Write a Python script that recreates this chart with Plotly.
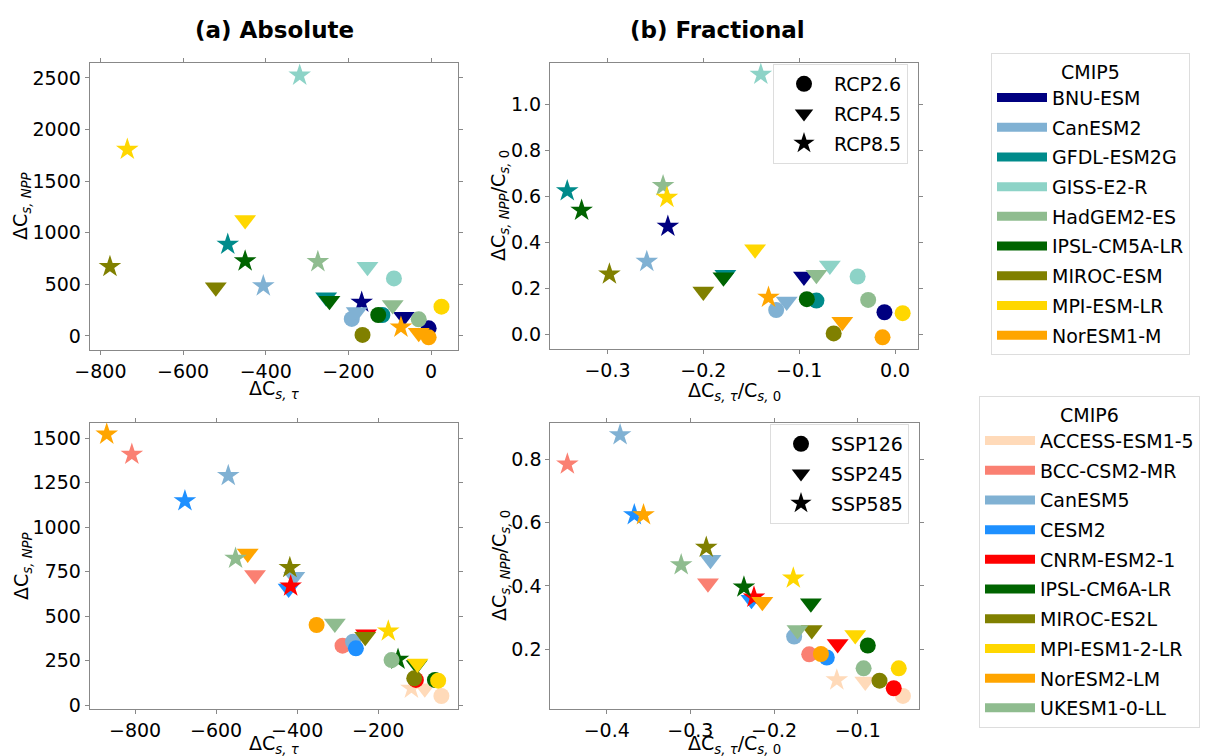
import plotly.graph_objects as go

# ---------------- data ----------------
cmip5_models = ["BNU-ESM", "CanESM2", "GFDL-ESM2G", "GISS-E2-R", "HadGEM2-ES",
                "IPSL-CM5A-LR", "MIROC-ESM", "MPI-ESM-LR", "NorESM1-M"]
cmip5_colors = ["#000080", "#80B1D3", "#008B8B", "#8DD3C7", "#8FBC8F",
                "#006400", "#808000", "#FFD700", "#FFA500"]
rcp_names = ["RCP2.6", "RCP4.5", "RCP8.5"]

# (a) absolute, per model: [RCP2.6, RCP4.5, RCP8.5]
cmip5_abs_dtau = [[-6, -66, -168], [-192, -180, -406], [-118, -254, -492],
                  [-90, -154, -318], [-30, -93, -274], [-128, -246, -450],
                  [-166, -521, -777], [25, -450, -735], [-6, -30, -73]]
cmip5_abs_dnpp = [[74, 187, 326], [165, 232, 484], [203, 374, 887],
                  [558, 671, 2526], [161, 300, 719], [203, 342, 726],
                  [10, 471, 671], [284, 1123, 1807], [-13, 32, 84]]
# (b) fractional
cmip5_frac_dtau = [[-0.011, -0.095, -0.237], [-0.124, -0.113, -0.259],
                   [-0.082, -0.177, -0.342], [-0.039, -0.068, -0.140],
                   [-0.028, -0.082, -0.242], [-0.092, -0.179, -0.327],
                   [-0.064, -0.200, -0.298], [0.008, -0.146, -0.238],
                   [-0.013, -0.055, -0.132]]
cmip5_frac_dnpp = [[0.096, 0.252, 0.470], [0.106, 0.143, 0.317],
                   [0.147, 0.259, 0.625], [0.252, 0.300, 1.132],
                   [0.150, 0.259, 0.647], [0.153, 0.249, 0.540],
                   [0.004, 0.186, 0.262], [0.092, 0.371, 0.596],
                   [-0.013, 0.055, 0.161]]

cmip6_models = ["ACCESS-ESM1-5", "BCC-CSM2-MR", "CanESM5", "CESM2", "CNRM-ESM2-1",
                "IPSL-CM6A-LR", "MIROC-ES2L", "MPI-ESM1-2-LR", "NorESM2-LM", "UKESM1-0-LL"]
cmip6_colors = ["#FFDAB9", "#FA8072", "#80B1D3", "#1E90FF", "#FF0000",
                "#006400", "#808000", "#FFD700", "#FFA500", "#8FBC8F"]
ssp_names = ["SSP126", "SSP245", "SSP585"]

cmip6_abs_dtau = [[-44, -85, -118], [-288, -504, -808], [-262, -407, -570],
                  [-255, -421, -677], [-107, -230, -416], [-60, -105, -151],
                  [-111, -232, -418], [-52, -103, -175], [-352, -522, -870],
                  [-167, -307, -552]]
cmip6_abs_dnpp = [[51, 94, 94], [334, 731, 1410], [356, 722, 1290],
                  [319, 656, 1148], [141, 398, 669], [141, 225, 257],
                  [150, 384, 773], [137, 234, 416], [450, 853, 1523],
                  [253, 459, 825]]
cmip6_frac_dtau = [[-0.046, -0.091, -0.125], [-0.158, -0.279, -0.447],
                   [-0.176, -0.276, -0.384], [-0.137, -0.227, -0.367],
                   [-0.057, -0.124, -0.224], [-0.088, -0.156, -0.236],
                   [-0.074, -0.155, -0.281], [-0.051, -0.103, -0.177],
                   [-0.144, -0.214, -0.356], [-0.093, -0.172, -0.311]]
cmip6_frac_dnpp = [[0.053, 0.098, 0.103], [0.184, 0.408, 0.784],
                   [0.240, 0.482, 0.876], [0.174, 0.356, 0.624],
                   [0.077, 0.217, 0.364], [0.212, 0.345, 0.396],
                   [0.101, 0.261, 0.521], [0.140, 0.245, 0.424],
                   [0.185, 0.350, 0.624], [0.140, 0.261, 0.466]]

symbols = ["circle", "triangle-down", "star"]
sizes = [16, 19, 17]

FONT = "DejaVu Sans"
W, H = 1208, 756
OFF = 8  # page body margin offset

fig = go.Figure()

def px_x(p):
    return (p - OFF) / W

def px_y(p):
    return 1 - (p - OFF) / H

panels = [
    ("x", "y", cmip5_abs_dtau, cmip5_abs_dnpp, cmip5_colors),
    ("x2", "y2", cmip5_frac_dtau, cmip5_frac_dnpp, cmip5_colors),
    ("x3", "y3", cmip6_abs_dtau, cmip6_abs_dnpp, cmip6_colors),
    ("x4", "y4", cmip6_frac_dtau, cmip6_frac_dnpp, cmip6_colors),
]
for xa, ya, xs, ys, cols in panels:
    for i, c in enumerate(cols):
        fig.add_trace(go.Scatter(
            x=xs[i], y=ys[i], xaxis=xa, yaxis=ya, mode="markers",
            marker=dict(color=c, symbol=symbols, size=sizes, opacity=1,
                        line=dict(width=0)),
            showlegend=False, hoverinfo="x+y"))

# colour legends
for name, c in zip(cmip5_models, cmip5_colors):
    fig.add_trace(go.Scatter(x=[None], y=[None], mode="lines", name=name,
                             line=dict(color=c, width=9), legend="legend",
                             legendgroup="a" + name))
for name, c in zip(cmip6_models, cmip6_colors):
    fig.add_trace(go.Scatter(x=[None], y=[None], mode="lines", name=name,
                             line=dict(color=c, width=9), legend="legend2",
                             legendgroup="b" + name))
# marker legends
for name, s, sz in zip(rcp_names, symbols, sizes):
    fig.add_trace(go.Scatter(x=[None], y=[None], mode="markers", name=name,
                             marker=dict(color="black", symbol=s, size=sz, opacity=1),
                             legend="legend3", legendgroup="c" + name,
                             xaxis="x2", yaxis="y2"))
for name, s, sz in zip(ssp_names, symbols, sizes):
    fig.add_trace(go.Scatter(x=[None], y=[None], mode="markers", name=name,
                             marker=dict(color="black", symbol=s, size=sz, opacity=1),
                             legend="legend4", legendgroup="d" + name,
                             xaxis="x4", yaxis="y4"))

axis_common = dict(showline=True, linecolor="#888888", linewidth=1, mirror="ticks",
                   ticks="outside", ticklen=4, tickcolor="#888888", showgrid=False,
                   zeroline=False, automargin=False,
                   tickfont=dict(family=FONT, size=19, color="black"))

xt_abs = "ΔC<sub><i>s, τ</i></sub>"
yt_abs = "ΔC<sub><i>s, NPP</i></sub>"
xt_frac = "ΔC<sub><i>s, τ</i></sub>/C<sub><i>s, </i>0</sub>"
yt_frac = "ΔC<sub><i>s, NPP</i></sub>/C<sub><i>s, </i>0</sub>"

def ann(text, x, y, angle=0, size=19):
    return dict(text=text, x=px_x(x), y=px_y(y), xref="paper", yref="paper",
                showarrow=False, textangle=angle, xanchor="center", yanchor="middle",
                font=dict(family=FONT, size=size, color="black"))

legend_common = dict(xanchor="left", yanchor="top", bordercolor="#dddddd",
                     borderwidth=1, bgcolor="white", font=dict(family=FONT, size=19),
                     itemwidth=50, tracegroupgap=2)

fig.update_layout(
    width=W, height=H, margin=dict(l=0, r=0, t=0, b=0, autoexpand=False),
    plot_bgcolor="white", paper_bgcolor="white",
    font=dict(family=FONT, size=19, color="black"),
    xaxis=dict(axis_common, domain=[px_x(89.7), px_x(458)], range=[-826, 65],
               tickvals=[-800, -600, -400, -200, 0], anchor="y"),
    yaxis=dict(axis_common, domain=[px_y(350), px_y(63)], range=[-136, 2645],
               tickvals=[0, 500, 1000, 1500, 2000, 2500], anchor="x"),
    xaxis2=dict(axis_common, domain=[px_x(550), px_x(918)], range=[-0.360, 0.024],
                tickvals=[-0.3, -0.2, -0.1, 0.0], tickformat=".1f", anchor="y2"),
    yaxis2=dict(axis_common, domain=[px_y(349), px_y(63)], range=[-0.064, 1.182],
                tickvals=[0.0, 0.2, 0.4, 0.6, 0.8, 1.0], tickformat=".1f", anchor="x2"),
    xaxis3=dict(axis_common, domain=[px_x(89.7), px_x(458)], range=[-912, -3],
                tickvals=[-800, -600, -400, -200], anchor="y3"),
    yaxis3=dict(axis_common, domain=[px_y(709.3), px_y(422.7)], range=[-24, 1588],
                tickvals=[0, 250, 500, 750, 1000, 1250, 1500], anchor="x3"),
    xaxis4=dict(axis_common, domain=[px_x(550.3), px_x(919)], range=[-0.4674, -0.0268],
                tickvals=[-0.4, -0.3, -0.2, -0.1], tickformat=".1f", anchor="y4"),
    yaxis4=dict(axis_common, domain=[px_y(708.7), px_y(422.7)], range=[0.0126, 0.9145],
                tickvals=[0.2, 0.4, 0.6, 0.8], tickformat=".1f", anchor="x4"),
    legend=dict(legend_common, x=px_x(991), y=px_y(53),
                title=dict(text="CMIP5", side="top center", font=dict(family=FONT, size=19))),
    legend2=dict(legend_common, x=px_x(979), y=px_y(396),
                 title=dict(text="CMIP6", side="top center", font=dict(family=FONT, size=19))),
    legend3=dict(legend_common, x=px_x(773), y=px_y(64)),
    legend4=dict(legend_common, x=px_x(770), y=px_y(424)),
    annotations=[
        ann("<b>(a) Absolute</b>", 274, 30, size=23),
        ann("<b>(b) Fractional</b>", 718, 30, size=23),
        ann(xt_abs, 274, 389),
        ann(xt_frac, 734, 391),
        ann(xt_abs, 274, 744),
        ann(xt_frac, 734, 744),
        ann(yt_abs, 22, 206, angle=-90),
        ann(yt_frac, 500, 206, angle=-90),
        ann(yt_abs, 22, 566, angle=-90),
        ann(yt_frac, 500, 566, angle=-90),
    ],
)

fig.write_html("out.html")
